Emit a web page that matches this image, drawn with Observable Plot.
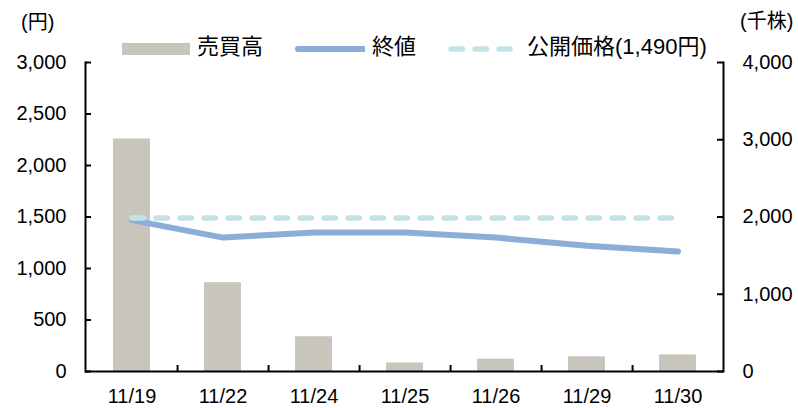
<!DOCTYPE html>
<html><head><meta charset="utf-8">
<script src="https://cdn.jsdelivr.net/npm/d3@7"></script>
<script src="https://cdn.jsdelivr.net/npm/@observablehq/plot@0.6"></script>
<style>
html,body{margin:0;padding:0;background:#fff;}
#wrap{position:relative;width:798px;height:408px;font-family:"Liberation Sans","Noto Sans CJK JP",sans-serif;color:#000;}
.lab{position:absolute;line-height:1;white-space:nowrap;}
#chart{position:absolute;left:0;top:0;}
</style></head><body><div id="wrap"><div id="chart"></div></div>
<script>
const dates = ["11/19","11/22","11/24","11/25","11/26","11/29","11/30"];
const volume = [3010,1150,450,110,160,190,215]; // 売買高 (千株)
const closes = [1470,1300,1350,1350,1300,1220,1165]; // 終値 (円)
const ipoPrice = 1490; // 公開価格
const leftTicks = [0,500,1000,1500,2000,2500,3000];
const rightTicks = [0,1000,2000,3000,4000];
const leftMax = 3000, rightMax = 4000;
const ratio = leftMax / rightMax;

const barColor = "#c8c5bd", lineColor = "#8aaed8", ipoColor = "#c3e3e7";
const W = 798, H = 408, mL = 85, mR = 75, mT = 62, mB = 37;
const plotW = W - mL - mR, plotH = H - mT - mB;
const step = plotW / dates.length;

const data = dates.map((d, i) => ({date: d, vol: volume[i], close: closes[i]}));
const ipoData = [dates[0], dates[dates.length - 1]].map(d => ({date: d, price: ipoPrice}));
const fmt = d3.format(",");

const chart = Plot.plot({
  width: W, height: H,
  marginLeft: mL, marginRight: mR, marginTop: mT, marginBottom: mB,
  style: {fontFamily: '"Liberation Sans","Noto Sans CJK JP",sans-serif', fontSize: "20px", color: "#000", background: "#fff"},
  x: {domain: dates, padding: 0},
  y: {domain: [0, leftMax]},
  marks: [
    Plot.barY(data, {x: "date", y: d => d.vol * ratio, fill: barColor, insetLeft: (step - 37) / 2, insetRight: (step - 37) / 2}),
    Plot.line(data, {x: "date", y: "close", stroke: lineColor, strokeWidth: 6, strokeLinecap: "round", strokeLinejoin: "round"}),
    Plot.line(ipoData, {x: "date", y: "price", stroke: ipoColor, strokeWidth: 5.5, strokeDasharray: "11.5,12.5", strokeLinecap: "round"}),
    Plot.frame({anchor: "left", stroke: "#000", strokeWidth: 2}),
    Plot.frame({anchor: "right", stroke: "#000", strokeWidth: 2}),
    Plot.ruleY([0], {stroke: "#000", strokeWidth: 2}),
    Plot.ruleY(leftTicks, {y: d => d, insetRight: plotW - 6, stroke: "#000", strokeWidth: 2}),
    Plot.ruleY(rightTicks, {y: d => d * ratio, insetLeft: plotW - 6, stroke: "#000", strokeWidth: 2}),
    Plot.ruleX(dates.slice(0, -1), {x: d => d, dx: step / 2, insetTop: plotH - 6, stroke: "#000", strokeWidth: 2}),
    Plot.axisY(leftTicks, {anchor: "left", tickSize: 0, tickPadding: 19, tickFormat: fmt, label: null, fill: "#000"}),
    Plot.axisY(rightTicks.map(d => d * ratio), {anchor: "right", tickSize: 0, tickPadding: 19, tickFormat: d => fmt(Math.round(d / ratio)), label: null, fill: "#000"}),
    Plot.axisX({tickSize: 0, tickPadding: 17, label: null, fill: "#000"})
  ]
});
document.getElementById("chart").appendChild(chart);

// unit labels and legend
const wrap = document.getElementById("wrap");
function addLabel(text, left, top, size) {
  const el = document.createElement("div");
  el.className = "lab";
  el.textContent = text;
  el.style.left = left + "px";
  el.style.top = top + "px";
  el.style.fontSize = size + "px";
  wrap.appendChild(el);
  return el;
}
addLabel("(円)", 21, 12, 20);
addLabel("(千株)", 740, 11, 20);

const legendItems = [
  {label: "売買高", type: "bar", x: 122},
  {label: "終値", type: "line", x: 295},
  {label: "公開価格(1,490円)", type: "dash", x: 448}
];
legendItems.forEach(it => {
  const sw = document.createElementNS("http://www.w3.org/2000/svg", "svg");
  sw.setAttribute("width", 70); sw.setAttribute("height", 20);
  sw.style.position = "absolute"; sw.style.left = it.x + "px"; sw.style.top = "39px";
  if (it.type === "bar") {
    sw.innerHTML = `<rect x="0" y="4" width="68" height="12" fill="${barColor}"/>`;
  } else if (it.type === "line") {
    sw.innerHTML = `<line x1="3" y1="10" x2="70" y2="10" stroke="${lineColor}" stroke-width="6" stroke-linecap="round"/>`;
  } else {
    sw.innerHTML = `<line x1="3" y1="10" x2="62" y2="10" stroke="${ipoColor}" stroke-width="5.5" stroke-dasharray="11.5,12.5" stroke-linecap="round"/>`;
  }
  wrap.appendChild(sw);
  const off = it.type === "dash" ? 79 : (it.type === "line" ? 77 : 75);
  addLabel(it.label, it.x + off, 36, 22);
});
</script>
</body></html>
